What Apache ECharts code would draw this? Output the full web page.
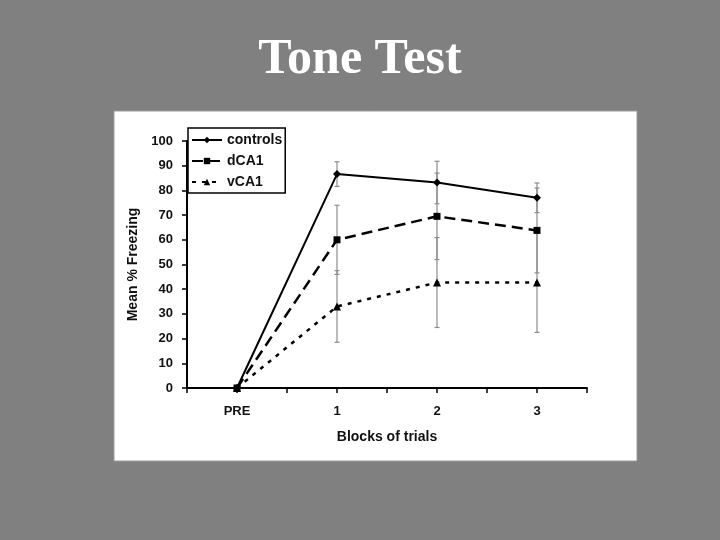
<!DOCTYPE html>
<html lang="en">
  <head>
    <meta charset="UTF-8" />
    <script src="https://cdn.jsdelivr.net/npm/echarts@6/dist/echarts.min.js"></script>
    <title>Tone Test</title>
  </head>
  <body style="margin: 0; background: #808080">
    <div id="app" style="width: 720px; height: 540px"></div>

    <script>
      // 数据
      const categories = ["PRE", "1", "2", "3"];
      const controls = [0, 86.6, 83.2, 77];
      const controlsErr = [0, 5, 8.6, 6];
      const dCA1 = [0, 60, 69.5, 63.8];
      const dCA1Err = [0, 14, 17.5, 17.2];
      const vCA1 = [0, 33, 42.7, 42.7];
      const vCA1Err = [0, 14.5, 18.2, 20.2];

      const chart = echarts.init(document.getElementById("app"));
      const font = "Liberation Sans";

      // [x, y] pairs, x = category index
      const pts = (arr) => arr.map((v, i) => [i, v]);
      // [x, low, high] for the error bars
      const bars = (arr, err) =>
        arr.map((v, i) => [i, v - err[i], v + err[i]]).filter((d, i) => err[i] > 0);

      function errorBar(params, api) {
        const x = api.value(0);
        const top = api.coord([x, api.value(2)]);
        const bot = api.coord([x, api.value(1)]);
        const hw = 2.5;
        const st = { stroke: "#8c8c8c", lineWidth: 1.2 };
        return {
          type: "group",
          children: [
            { type: "line", shape: { x1: top[0], y1: top[1], x2: bot[0], y2: bot[1] }, style: st },
            { type: "line", shape: { x1: top[0] - hw, y1: top[1], x2: top[0] + hw, y2: top[1] }, style: st },
            { type: "line", shape: { x1: bot[0] - hw, y1: bot[1], x2: bot[0] + hw, y2: bot[1] }, style: st },
          ],
        };
      }

      const errSeries = (arr, err) => ({
        type: "custom",
        renderItem: errorBar,
        data: bars(arr, err),
        z: 1,
        silent: true,
        encode: { x: 0, y: [1, 2] },
      });

      chart.setOption({
        backgroundColor: "#808080",
        animation: false,
        title: {
          text: "Tone Test",
          left: "center",
          top: 30,
          textStyle: {
            color: "#ffffff",
            fontFamily: "Liberation Serif",
            fontWeight: "bold",
            fontSize: 50,
          },
        },
        graphic: [
          {
            type: "rect",
            z: -10,
            shape: { x: 114, y: 111, width: 523, height: 350 },
            style: { fill: "#ffffff", stroke: "#9c9c9c", lineWidth: 1 },
          },
        ],
        legend: {
          orient: "vertical",
          left: 188,
          top: 128,
          padding: [5, 3, 4, 3],
          itemGap: 7,
          itemWidth: 30,
          itemHeight: 8,
          backgroundColor: "#ffffff",
          borderColor: "#000000",
          borderWidth: 1.5,
          borderRadius: 0,
          textStyle: { fontFamily: font, fontWeight: "bold", fontSize: 14, color: "#111" },
          data: ["controls", "dCA1", "vCA1"],
        },
        grid: { left: 187, right: 133, top: 141, bottom: 152 },
        xAxis: {
          type: "value",
          min: -0.5,
          max: 3.5,
          interval: 0.5,
          name: "Blocks of trials",
          nameLocation: "middle",
          nameGap: 42,
          nameTextStyle: { fontFamily: font, fontWeight: "bold", fontSize: 14, color: "#111" },
          axisLine: { onZero: false, lineStyle: { color: "#000", width: 2 } },
          axisTick: { length: 5, lineStyle: { color: "#000", width: 1.5 } },
          axisLabel: {
            margin: 17,
            fontFamily: font,
            fontWeight: "bold",
            fontSize: 13,
            color: "#111",
            formatter: (v) => (Number.isInteger(v) && categories[v] !== undefined ? categories[v] : ""),
          },
          splitLine: { show: false },
        },
        yAxis: {
          type: "value",
          min: 0,
          max: 100,
          interval: 10,
          name: "Mean % Freezing",
          nameLocation: "middle",
          nameGap: 46,
          nameTextStyle: { fontFamily: font, fontWeight: "bold", fontSize: 14, color: "#111" },
          axisLine: { show: true, onZero: false, lineStyle: { color: "#000", width: 2 } },
          axisTick: { show: true, length: 5, lineStyle: { color: "#000", width: 1.5 } },
          axisLabel: { margin: 14, fontFamily: font, fontWeight: "bold", fontSize: 13, color: "#111" },
          splitLine: { show: false },
        },
        series: [
          errSeries(controls, controlsErr),
          errSeries(dCA1, dCA1Err),
          errSeries(vCA1, vCA1Err),
          {
            name: "controls",
            type: "line",
            data: pts(controls),
            symbol: "diamond",
            symbolSize: 8,
            itemStyle: { color: "#000" },
            lineStyle: { color: "#000", width: 2 },
            z: 5,
          },
          {
            name: "dCA1",
            type: "line",
            data: pts(dCA1),
            symbol: "rect",
            symbolSize: 7,
            itemStyle: { color: "#000" },
            lineStyle: { color: "#000", width: 2.5, type: [11, 6] },
            z: 5,
          },
          {
            name: "vCA1",
            type: "line",
            data: pts(vCA1),
            symbol: "triangle",
            symbolSize: 8,
            itemStyle: { color: "#000" },
            lineStyle: { color: "#000", width: 2.5, type: [4, 6] },
            z: 5,
          },
        ],
      });
    </script>
  </body>
</html>
